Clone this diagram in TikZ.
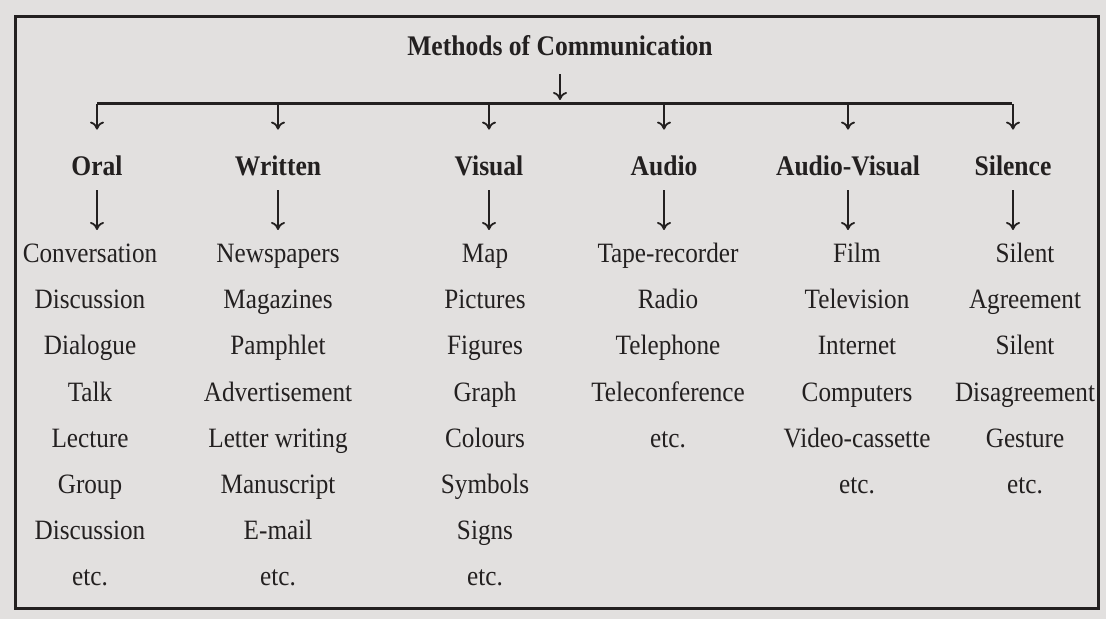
\documentclass[tikz,border=0pt]{standalone}
\usepackage{fontspec}
\setmainfont{Liberation Serif}[FakeStretch=0.9]
\usetikzlibrary{arrows.meta}
\definecolor{paper}{RGB}{226,224,223}
\definecolor{ink}{RGB}{35,32,32}
\tikzset{
  head/.style={font=\fontsize{14.2}{17}\selectfont\bfseries, text=ink, inner sep=0pt, text height=10pt, text depth=3pt},
  item/.style={font=\fontsize{14}{17}\selectfont, text=ink, inner sep=0pt, text height=10pt, text depth=3pt},
  arr/.style={ink, line width=0.9pt, -{To[length=4pt,width=7pt]}},
}
\begin{document}
\begin{tikzpicture}[x=0.5pt,y=-0.5pt]
  \useasboundingbox (0,0) rectangle (1106,619);
  \fill[paper] (0,0) rectangle (1106,619);
  % outer frame
  \draw[ink, line width=1.5pt] (15,17) rectangle (1098,608);

  % title and main branch
  \node[head] (title) at (560,49) {Methods of Communication};
  \coordinate (bus-west) at (97,104);
  \coordinate (bus-east) at (1012,104);
  \draw[ink, line width=1.5pt] (bus-west) -- (bus-east);
  \draw[arr, shorten <=6pt, shorten >=2pt] (title) -- (title |- bus-west);

  % the six methods with their lists
  \foreach \cname/\ctext/\cx/\ix/\items in {
      oral/Oral/97/90/{Conversation,Discussion,Dialogue,Talk,Lecture,Group,Discussion,etc.},
      written/Written/278/278/{Newspapers,Magazines,Pamphlet,Advertisement,Letter writing,Manuscript,E-mail,etc.},
      visual/Visual/489/485/{Map,Pictures,Figures,Graph,Colours,Symbols,Signs,etc.},
      audio/Audio/664/668/{Tape-recorder,Radio,Telephone,Teleconference,etc.},
      av/Audio-Visual/848/857/{Film,Television,Internet,Computers,Video-cassette,etc.},
      silence/Silence/1013/1025/{Silent,Agreement,Silent,Disagreement,Gesture,etc.}} {
    \node[head] (\cname) at (\cx,169) {\ctext};
    \draw[arr, shorten >=13pt] (\cname |- bus-west) -- (\cname); % from main line
    \foreach \it [count=\n] in \items {
      \node[item] (\cname-\n) at (\ix,{256+46*(\n-1)}) {\it};
    }
    \draw[arr, shorten <=4pt, shorten >=13pt] (\cname) -- (\cname |- \cname-1);
  }
\end{tikzpicture}
\end{document}
